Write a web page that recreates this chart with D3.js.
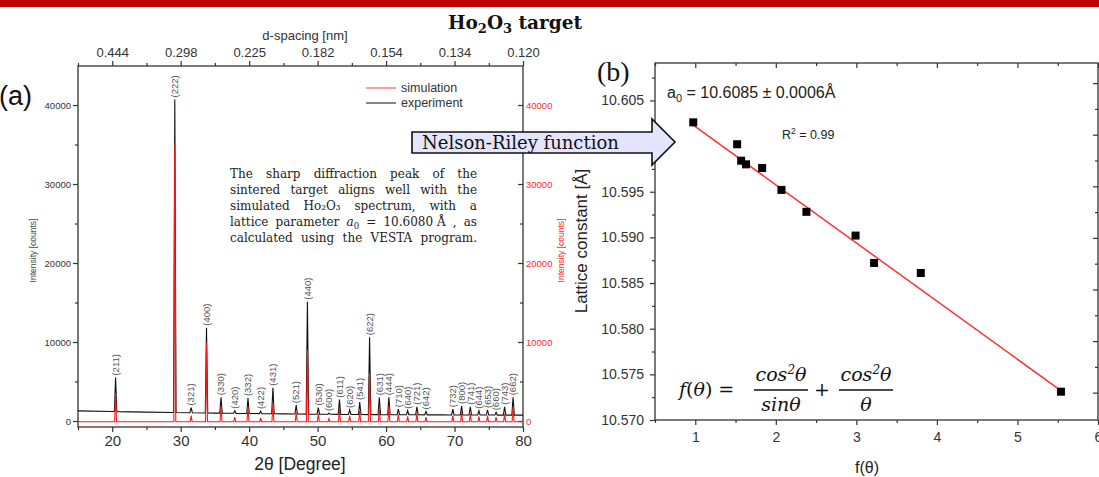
<!DOCTYPE html>
<html>
<head>
<meta charset="utf-8">
<script src="https://cdn.jsdelivr.net/npm/d3@7"></script>
<style>
  body { margin: 0; background: #fff; }
  svg { display: block; }
</style>
</head>
<body>
<div id="chart"></div>
<script>
// ---------- (a) XRD pattern ----------
const hkl = ["(211)","(222)","(321)","(400)","(330)","(420)","(332)","(422)","(431)","(521)","(440)","(530)","(600)","(611)","(620)","(541)","(622)","(631)","(444)","(710)","(640)","(721)","(642)","(732)","(800)","(741)","(644)","(653)","(660)","(743)","(662)"];
const twoTheta = [20.49,29.14,31.53,33.77,35.89,37.90,39.83,41.68,43.47,46.87,48.51,50.10,51.66,53.19,54.68,56.15,57.59,59.01,60.41,61.79,63.15,64.50,65.83,69.75,71.03,72.30,73.56,74.82,76.07,77.31,78.55];
const expPeak = [5500,40700,1700,11800,3000,1300,2900,1250,4200,2000,15100,1700,1000,2700,1400,2400,10600,3000,3000,1500,1300,1800,1200,1500,1900,1800,1300,1400,1100,1800,3000];
const simPeak = [3500,35000,700,9900,1800,500,1800,400,2200,1100,9000,900,300,1600,700,1300,6000,1600,1900,800,600,1000,500,700,1100,900,600,700,500,900,1800];
// background of the measured curve
const expBaseX = [15, 20, 25, 35, 45, 55, 68, 80];
const expBaseY = [1280, 1200, 1120, 1000, 900, 820, 770, 740];
const simBase = -100;

const twoThetaTicks = [20, 30, 40, 50, 60, 70, 80];
const dSpacingLabels = ["0.444", "0.298", "0.225", "0.182", "0.154", "0.134", "0.120"];
const intensityTicks = [0, 10000, 20000, 30000, 40000];

// ---------- (b) Nelson-Riley ----------
const nrF = [0.975, 1.52, 1.57, 1.63, 1.83, 2.07, 2.38, 2.99, 3.22, 3.80, 5.54];
const nrA = [10.6026, 10.6002, 10.5984, 10.5980, 10.5976, 10.5952, 10.5928, 10.5902, 10.5872, 10.5861, 10.5731];
const fitA0 = 10.6085, fitSlope = -0.00637;
const fTicks = [1, 2, 3, 4, 5, 6];
const aTicks = [10.570, 10.575, 10.580, 10.585, 10.590, 10.595, 10.600, 10.605];

const SANS = "'Liberation Sans', Arial, sans-serif";
const SERIF = "'DejaVu Serif', serif";
const W = 1099, H = 477;

const svg = d3.select("#chart").append("svg").attr("width", W).attr("height", H);
svg.append("rect").attr("width", W).attr("height", H).attr("fill", "#fff");
svg.append("rect").attr("width", W).attr("height", 7).attr("fill", "#c00000");

function styleAxis(g, size, col) {
  g.attr("font-family", SANS).attr("font-size", size).attr("color", "#333");
  g.select(".domain").remove();
  g.selectAll("line").attr("stroke-width", 1.2);
  if (col) g.selectAll("text").attr("fill", col);
  return g;
}

// ================= panel (a) =================
const x2t = d3.scaleLinear().domain([15, 80]).range([78, 523]);
const yInt = d3.scaleLinear().domain([-760, 44940]).range([427, 66]);
const [L, R] = x2t.range(), [B, T] = yInt.range();
const minor2t = d3.range(15, 81, 5).filter(d => d % 10);
const minorInt = d3.range(5000, 45000, 10000);
const fmtInt = d3.format("d");

const ga = svg.append("g");

// bottom
styleAxis(ga.append("g").attr("transform", `translate(0,${B})`)
  .call(d3.axisBottom(x2t).tickValues(twoThetaTicks).tickSize(5).tickSizeOuter(0).tickPadding(3)), 15);
styleAxis(ga.append("g").attr("transform", `translate(0,${B})`)
  .call(d3.axisBottom(x2t).tickValues(minor2t).tickSize(3).tickFormat("")), 15);
// top (d-spacing)
styleAxis(ga.append("g").attr("transform", `translate(0,${T})`)
  .call(d3.axisTop(x2t).tickValues(twoThetaTicks).tickSize(5).tickPadding(4)
    .tickFormat((d, i) => dSpacingLabels[i])), 13);
styleAxis(ga.append("g").attr("transform", `translate(0,${T})`)
  .call(d3.axisTop(x2t).tickValues(minor2t).tickSize(3).tickFormat("")), 13);
// left
styleAxis(ga.append("g").attr("transform", `translate(${L},0)`)
  .call(d3.axisLeft(yInt).tickValues(intensityTicks).tickSize(5).tickPadding(2).tickFormat(fmtInt)), 9.5);
styleAxis(ga.append("g").attr("transform", `translate(${L},0)`)
  .call(d3.axisLeft(yInt).tickValues(minorInt).tickSize(3).tickFormat("")), 9);
// right (red labels)
styleAxis(ga.append("g").attr("transform", `translate(${R},0)`)
  .call(d3.axisRight(yInt).tickValues(intensityTicks).tickSize(-5).tickPadding(3).tickFormat(fmtInt)), 9.5, "#ff2a2a");
styleAxis(ga.append("g").attr("transform", `translate(${R},0)`)
  .call(d3.axisRight(yInt).tickValues(minorInt).tickSize(-3).tickFormat("")), 9);

ga.append("rect").attr("x", L).attr("y", T).attr("width", R - L).attr("height", B - T)
  .attr("fill", "none").attr("stroke", "#333").attr("stroke-width", 1.3);

ga.append("text").attr("x", 305).attr("y", 40).attr("text-anchor", "middle")
  .attr("font-family", SANS).attr("font-size", 13).attr("fill", "#333").text("d-spacing [nm]");
ga.append("text").attr("x", 300).attr("y", 470).attr("text-anchor", "middle")
  .attr("font-family", SANS).attr("font-size", 17.5).attr("fill", "#222").text("2θ [Degree]");
ga.append("text").attr("transform", `translate(36,${(T + B) / 2 + 4}) rotate(-90)`).attr("text-anchor", "middle")
  .attr("font-family", SANS).attr("font-size", 8.5).attr("fill", "#444").text("Intensity [counts]");
ga.append("text").attr("transform", `translate(564,${(T + B) / 2 + 4}) rotate(-90)`).attr("text-anchor", "middle")
  .attr("font-family", SANS).attr("font-size", 8.5).attr("fill", "#ff2a2a").text("Intensity [counts]");
ga.append("text").attr("x", -1).attr("y", 105).attr("font-family", SANS).attr("font-size", 27)
  .attr("fill", "#111").text("(a)");

// spectra
svg.append("clipPath").attr("id", "clipA").append("rect")
  .attr("x", L).attr("y", T).attr("width", R - L).attr("height", B - T);
const expBase = d3.scaleLinear().domain(expBaseX).range(expBaseY);
const expPts = expBaseX.map((x, i) => [x, expBaseY[i]]);
twoTheta.forEach((t, i) => {
  expPts.push([t - 0.18, expBase(t - 0.18)], [t, expPeak[i]], [t + 0.18, expBase(t + 0.18)]);
});
expPts.sort((a, b) => a[0] - b[0]);
const simPts = [[15, simBase], [80, simBase]];
twoTheta.forEach((t, i) => {
  simPts.push([t - 0.14, simBase], [t, simPeak[i]], [t + 0.14, simBase]);
});
simPts.sort((a, b) => a[0] - b[0]);

const line = d3.line().x(d => x2t(d[0])).y(d => yInt(d[1]));
const gData = svg.append("g").attr("clip-path", "url(#clipA)");
gData.append("path").datum(expPts).attr("d", line)
  .attr("fill", "none").attr("stroke", "#111").attr("stroke-width", 1.1);
gData.append("path").datum(simPts).attr("d", line)
  .attr("fill", "none").attr("stroke", "#ff1a1a").attr("stroke-width", 1.1);

// hkl labels
svg.append("g").selectAll("text").data(hkl).join("text")
  .attr("transform", (d, i) => `translate(${x2t(twoTheta[i]) + 3.3},${yInt(expPeak[i]) - 2}) rotate(-90)`)
  .attr("font-family", SANS).attr("font-size", 9.5).attr("fill", "#555")
  .text(d => d);

// legend
const lg = svg.append("g").attr("font-family", SANS).attr("font-size", 12.5).attr("fill", "#333");
lg.append("line").attr("x1", 366).attr("x2", 396).attr("y1", 88).attr("y2", 88)
  .attr("stroke", "#ff5c5c").attr("stroke-width", 1.2);
lg.append("text").attr("x", 401).attr("y", 92).text("simulation");
lg.append("line").attr("x1", 366).attr("x2", 396).attr("y1", 103).attr("y2", 103)
  .attr("stroke", "#333").attr("stroke-width", 1.2);
lg.append("text").attr("x", 401).attr("y", 107).text("experiment");

// note text, justified
const noteLines = [
  [["The"], ["sharp"], ["diffraction"], ["peak"], ["of"], ["the"]],
  [["sintered"], ["target"], ["aligns"], ["well"], ["with"], ["the"]],
  [["simulated"], ["Ho₂O₃"], ["spectrum,"], ["with"], ["a"]],
  [["lattice"], ["parameter"], [["a", "i"], ["0", "sub"]], ["="], ["10.6080 Å"], [","], ["as"]],
  [["calculated"], ["using"], ["the"], ["VESTA"], ["program."]]
];
const noteG = svg.append("g").attr("font-family", SERIF).attr("font-size", 12).attr("fill", "#222");
noteLines.forEach((words, li) => {
  const y = 178 + li * 16;
  const nodes = words.map(w => {
    const t = noteG.append("text").attr("y", y);
    w.forEach(seg => {
      if (typeof seg === "string") t.append("tspan").text(seg);
      else if (seg[1] === "i") t.append("tspan").attr("font-style", "italic").text(seg[0]);
      else t.append("tspan").attr("font-size", 8.5).attr("dy", 3).text(seg[0]);
    });
    return t;
  });
  const widths = nodes.map(n => n.node().getComputedTextLength());
  const gap = (477 - 230 - d3.sum(widths)) / (nodes.length - 1);
  let x = 230;
  nodes.forEach((n, i) => { n.attr("x", x); n.selectAll("tspan").filter((d, k) => k === 0).attr("x", x); x += widths[i] + gap; });
});

// title
const title = svg.append("text").attr("x", 448).attr("y", 29).attr("font-family", SERIF)
  .attr("font-weight", "bold").attr("font-size", 18.5).attr("fill", "#111");
title.append("tspan").text("Ho");
title.append("tspan").attr("font-size", 13).attr("dy", 4).text("2");
title.append("tspan").attr("dy", -4).text("O");
title.append("tspan").attr("font-size", 13).attr("dy", 4).text("3");
title.append("tspan").attr("dy", -4).text(" target");

// ================= panel (b) =================
const xf = d3.scaleLinear().domain([0.5, 6]).range([655, 1098]);
const ya = d3.scaleLinear().domain([10.570, 10.6091]).range([420, 63]);
const [bL, bR] = xf.range(), [bB, bT] = ya.range();
const minorF = d3.range(0.5, 6.01, 0.5).filter(d => d % 1);
const minorA = aTicks.map(d => d + 0.0025).filter(d => d < 10.609);
// the 10.600 label sits under the arrow in the original
const fmtA = d => (Math.abs(d - 10.600) < 1e-6 ? "" : d3.format(".3f")(d));

const gb = svg.append("g");
styleAxis(gb.append("g").attr("transform", `translate(0,${bB})`)
  .call(d3.axisBottom(xf).tickValues(fTicks).tickSize(5).tickSizeOuter(0).tickPadding(7).tickFormat(d3.format("d"))), 14);
styleAxis(gb.append("g").attr("transform", `translate(0,${bB})`)
  .call(d3.axisBottom(xf).tickValues(minorF).tickSize(3).tickFormat("")), 14);
styleAxis(gb.append("g").attr("transform", `translate(0,${bT})`)
  .call(d3.axisTop(xf).tickValues(fTicks).tickSize(-5).tickFormat("")), 14);
styleAxis(gb.append("g").attr("transform", `translate(0,${bT})`)
  .call(d3.axisTop(xf).tickValues(minorF).tickSize(-3).tickFormat("")), 14);
styleAxis(gb.append("g").attr("transform", `translate(${bL},0)`)
  .call(d3.axisLeft(ya).tickValues(aTicks).tickSize(5).tickPadding(6).tickFormat(fmtA)), 14);
styleAxis(gb.append("g").attr("transform", `translate(${bL},0)`)
  .call(d3.axisLeft(ya).tickValues(minorA).tickSize(3).tickFormat("")), 14);
// right side ticks (own spacing as in the original)
const yAux = d3.scaleLinear().domain([-0.06, 13.78]).range([bB, bT]);
styleAxis(gb.append("g").attr("transform", `translate(${bR},0)`)
  .call(d3.axisRight(yAux).tickValues(d3.range(1, 14, 2)).tickSize(-5).tickFormat("")), 14);
styleAxis(gb.append("g").attr("transform", `translate(${bR},0)`)
  .call(d3.axisRight(yAux).tickValues(d3.range(2, 14, 2)).tickSize(-3).tickFormat("")), 14);
gb.append("rect").attr("x", bL).attr("y", bT).attr("width", bR - bL).attr("height", bB - bT)
  .attr("fill", "none").attr("stroke", "#333").attr("stroke-width", 1.3);

gb.append("text").attr("x", 867).attr("y", 473).attr("text-anchor", "middle")
  .attr("font-family", SANS).attr("font-size", 16).attr("fill", "#222").text("f(θ)");
gb.append("text").attr("transform", `translate(587,241) rotate(-90)`).attr("text-anchor", "middle")
  .attr("font-family", SANS).attr("font-size", 17).attr("fill", "#222").text("Lattice constant [Å]");
gb.append("text").attr("x", 597).attr("y", 81).attr("font-family", "'Liberation Serif', serif")
  .attr("font-size", 28).attr("fill", "#111").text("(b)");

// fit line + points
const fitEnds = [nrF[0], nrF[nrF.length - 1]];
gb.append("path").datum(fitEnds)
  .attr("d", d3.line().x(f => xf(f)).y(f => ya(fitA0 + fitSlope * f)))
  .attr("stroke", "#ff3030").attr("stroke-width", 1.5).attr("fill", "none");
gb.append("g").selectAll("rect").data(nrF).join("rect")
  .attr("x", d => xf(d) - 4).attr("y", (d, i) => ya(nrA[i]) - 4)
  .attr("width", 8).attr("height", 8).attr("fill", "#000");

const a0t = gb.append("text").attr("x", 667).attr("y", 98).attr("font-family", SANS)
  .attr("font-size", 16).attr("fill", "#222");
a0t.append("tspan").text("a");
a0t.append("tspan").attr("font-size", 11).attr("dy", 4).text("0");
a0t.append("tspan").attr("dy", -4).text(" = " + fitA0.toFixed(4) + " ± 0.0006Å");
const r2 = gb.append("text").attr("x", 782).attr("y", 139).attr("font-family", SANS)
  .attr("font-size", 12.5).attr("fill", "#222");
r2.append("tspan").text("R");
r2.append("tspan").attr("font-size", 8.5).attr("dy", -5).text("2");
r2.append("tspan").attr("dy", 5).text(" = 0.99");

// Nelson-Riley formula
const fm = gb.append("g").attr("font-family", SERIF).attr("font-size", 19).attr("fill", "#111");
const fx = fm.append("text").attr("x", 679).attr("y", 396);
fx.append("tspan").attr("font-style", "italic").text("f");
fx.append("tspan").text("(");
fx.append("tspan").attr("font-style", "italic").text("θ");
fx.append("tspan").text(") =");
function frac(cx, den) {
  const n = fm.append("text").attr("x", cx).attr("y", 381).attr("text-anchor", "middle").attr("font-style", "italic");
  n.append("tspan").text("cos");
  n.append("tspan").attr("font-size", 12).attr("dy", -7).text("2");
  n.append("tspan").attr("dy", 7).text("θ");
  fm.append("line").attr("x1", cx - 27).attr("x2", cx + 27).attr("y1", 390).attr("y2", 390)
    .attr("stroke", "#111").attr("stroke-width", 1.5);
  fm.append("text").attr("x", cx).attr("y", 411).attr("text-anchor", "middle").attr("font-style", "italic").text(den);
}
frac(781, "sinθ");
fm.append("text").attr("x", 822).attr("y", 396).attr("text-anchor", "middle").text("+");
frac(866, "θ");

// ================= arrow =================
svg.append("path")
  .attr("d", "M412,132 L652,132 L652,119 L675,142 L652,165 L652,153 L412,153 Z")
  .attr("fill", "#e4e4fc").attr("stroke", "#111").attr("stroke-width", 1.6).attr("stroke-linejoin", "miter");
svg.append("text").attr("x", 422).attr("y", 149).attr("font-family", SERIF).attr("font-size", 18)
  .attr("fill", "#111").text("Nelson-Riley function");
</script>
</body>
</html>
